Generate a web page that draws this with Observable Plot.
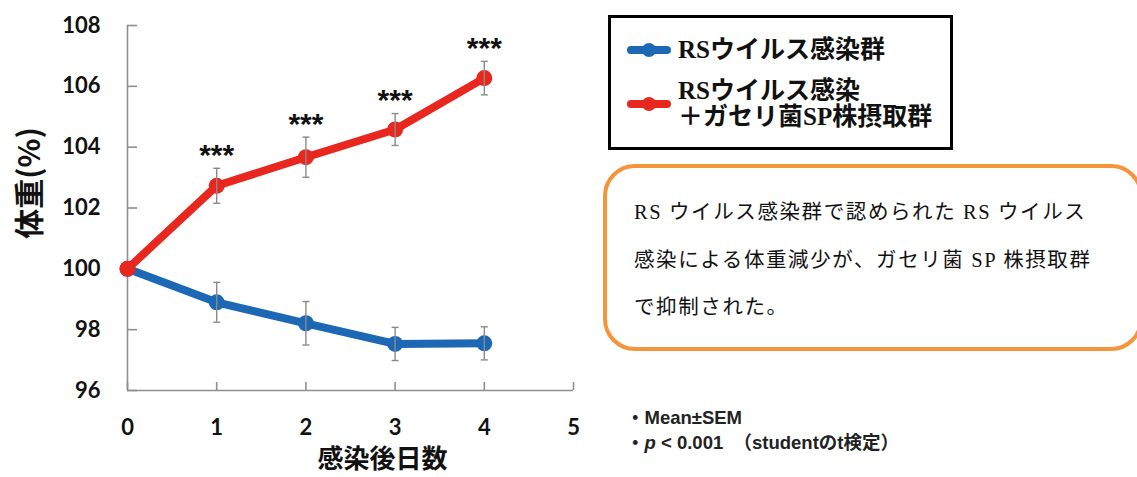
<!DOCTYPE html>
<html>
<head>
<meta charset="utf-8">
<script src="https://cdn.jsdelivr.net/npm/d3@7"></script>
<script src="https://cdn.jsdelivr.net/npm/@observablehq/plot@0.6"></script>
<style>
  html, body { margin: 0; padding: 0; background: #fff; }
  #wrap { position: relative; width: 1137px; height: 477px; overflow: hidden; background: #fff; }
  #chart { position: absolute; left: 0; top: 0; }
  #legend {
    position: absolute; left: 608px; top: 15px; width: 339px; height: 129px;
    border: 3px solid #000; box-sizing: content-box;
    font-family: "Liberation Serif", "Noto Sans CJK JP", serif; font-weight: 700;
    font-size: 25px; color: #111;
  }
  .lg-row { position: absolute; left: 0; display: flex; align-items: center; }
  .lg-row svg { margin-left: 16px; margin-right: 7px; flex: none; }
  .lg-text { line-height: 26px; white-space: nowrap; }
  #note {
    position: absolute; left: 603px; top: 164px; width: 540px; height: 187px;
    border: 4px solid #f5953a; border-radius: 32px; box-sizing: border-box;
    font-family: "Liberation Serif", "Noto Sans CJK JP", serif; font-size: 20.5px; color: #111;
  }
  #note .ln { position: absolute; left: 27px; white-space: nowrap; letter-spacing: 1.6px; }
  #foot {
    position: absolute; left: 626px; top: 405px;
    font-family: "Liberation Sans", "Noto Sans CJK JP", sans-serif; font-weight: 700;
    font-size: 18.5px; color: #222; line-height: 25px; white-space: nowrap;
  }
</style>
</head>
<body>
<div id="wrap">
  <div id="chart"></div>
  <div id="legend"></div>
  <div id="note">
    <div class="ln" style="top:27px">RS ウイルス感染群で認められた RS ウイルス</div>
    <div class="ln" style="top:75px">感染による体重減少が、ガセリ菌 SP 株摂取群</div>
    <div class="ln" style="top:122px">で抑制された。</div>
  </div>
  <div id="foot">
    <div>・Mean±SEM</div>
    <div>・<i>p</i> &lt; 0.001 &nbsp;（studentのt検定）</div>
  </div>
</div>
<script>
// ---- data ----
const days = [0, 1, 2, 3, 4];
const rsMean = [100, 98.9, 98.21, 97.53, 97.55];
const rsSem  = [0, 0.655, 0.715, 0.545, 0.545];
const spMean = [100, 102.73, 103.67, 104.58, 106.27];
const spSem  = [0, 0.575, 0.66, 0.525, 0.55];
const seriesNames = ["RSウイルス感染群", "RSウイルス感染\n＋ガセリ菌SP株摂取群"];
const seriesColors = ["#1c68b5", "#e8271f"];
const yTicks = [96, 98, 100, 102, 104, 106, 108];
const xTicks = [0, 1, 2, 3, 4, 5];
const sigDays = [1, 2, 3, 4];
const sigLabel = "***";
const yLabel = "体重(%)";
const xLabel = "感染後日数";

const rows = [];
days.forEach((d, i) => {
  rows.push({series: seriesNames[0], day: d, mean: rsMean[i], lo: rsMean[i] - rsSem[i], hi: rsMean[i] + rsSem[i], sem: rsSem[i]});
});
days.forEach((d, i) => {
  rows.push({series: seriesNames[1], day: d, mean: spMean[i], lo: spMean[i] - spSem[i], hi: spMean[i] + spSem[i], sem: spSem[i]});
});
const rsRows = rows.filter(r => r.series === seriesNames[0]);
const spRows = rows.filter(r => r.series === seriesNames[1]);
const errRows = rows.filter(r => r.sem > 0);
const sigRows = spRows.filter(r => sigDays.includes(r.day));

const capSymbol = { draw(ctx, size) { const w = Math.sqrt(size / Math.PI); ctx.moveTo(-w, 0); ctx.lineTo(w, 0); } };

const axisGray = "#8f8f8f";
const fontFam = "Lato, 'Noto Sans CJK JP', sans-serif";
const cjkFam = "'Noto Sans CJK JP', sans-serif";

const chart = Plot.plot({
  width: 600, height: 477,
  marginLeft: 127, marginRight: 27, marginTop: 25, marginBottom: 87,
  x: {domain: [0, 5]},
  y: {domain: [96, 108]},
  style: {fontFamily: fontFam, background: "transparent", overflow: "visible"},
  marks: [
    Plot.ruleX([0], {stroke: axisGray, strokeWidth: 1.6}),
    Plot.ruleY([96], {stroke: axisGray, strokeWidth: 1.6}),
    Plot.axisY({ticks: yTicks, tickSize: 0, tickPadding: 27, tickFormat: d3.format("d"), fontSize: 22, fontWeight: 700, fill: "#111", label: null}),
    Plot.axisY({ticks: yTicks, tickSize: -10, tickFormat: () => "", stroke: axisGray, strokeWidth: 1.6, label: null}),
    Plot.axisX({ticks: xTicks, tickSize: 0, tickPadding: 29, tickFormat: d3.format("d"), fontSize: 22, fontWeight: 700, fill: "#111", label: null}),
    Plot.axisX({ticks: xTicks, tickSize: -8, tickFormat: () => "", stroke: axisGray, strokeWidth: 1.6, label: null}),
    Plot.text([yLabel], {frameAnchor: "left", textAnchor: "middle", lineAnchor: "middle", dx: -97, dy: -25, rotate: -90, fontSize: 30, fontWeight: 700, fontFamily: cjkFam, fill: "#111", text: d => d}),
    Plot.text([xLabel], {frameAnchor: "bottom", textAnchor: "middle", lineAnchor: "middle", dx: 32, dy: 69, fontSize: 26, fontWeight: 700, fontFamily: cjkFam, fill: "#111", text: d => d, style: "letter-spacing:3.5px"}),
    Plot.line(rsRows, {x: "day", y: "mean", stroke: seriesColors[0], strokeWidth: 8}),
    Plot.dot(rsRows, {x: "day", y: "mean", r: 8, fill: seriesColors[0]}),
    Plot.line(spRows, {x: "day", y: "mean", stroke: seriesColors[1], strokeWidth: 8}),
    Plot.dot(spRows, {x: "day", y: "mean", r: 8, fill: seriesColors[1]}),
    Plot.ruleX(errRows, {x: "day", y1: "lo", y2: "hi", stroke: "#8a8a8a", strokeWidth: 1.4}),
    Plot.dot(errRows, {x: "day", y: "lo", symbol: capSymbol, r: 3.5, stroke: "#8a8a8a", strokeWidth: 1.4, fill: "none"}),
    Plot.dot(errRows, {x: "day", y: "hi", symbol: capSymbol, r: 3.5, stroke: "#8a8a8a", strokeWidth: 1.4, fill: "none"}),
    Plot.text(sigRows, {x: "day", y: "hi", text: () => sigLabel, dy: -13, fontSize: 30, fontWeight: 700, fontFamily: "'Liberation Sans', sans-serif", fill: "#111"})
  ]
});
document.getElementById("chart").appendChild(chart);

// legend
const legend = document.getElementById("legend");
const legendTops = [17, 56];
const legendHeights = [30, 60];
seriesNames.forEach((name, i) => {
  const row = document.createElement("div");
  row.className = "lg-row";
  row.style.top = legendTops[i] + "px";
  row.style.height = legendHeights[i] + "px";
  const ns = "http://www.w3.org/2000/svg";
  const sw = document.createElementNS(ns, "svg");
  sw.setAttribute("width", 44); sw.setAttribute("height", 16);
  const ln = document.createElementNS(ns, "line");
  ln.setAttribute("x1", 4); ln.setAttribute("x2", 40); ln.setAttribute("y1", 8); ln.setAttribute("y2", 8);
  ln.setAttribute("stroke", seriesColors[i]); ln.setAttribute("stroke-width", 8); ln.setAttribute("stroke-linecap", "round");
  const c = document.createElementNS(ns, "circle");
  c.setAttribute("cx", 22); c.setAttribute("cy", 8); c.setAttribute("r", 7); c.setAttribute("fill", seriesColors[i]);
  sw.appendChild(ln); sw.appendChild(c);
  row.appendChild(sw);
  const t = document.createElement("div");
  t.className = "lg-text";
  t.innerHTML = name.split("\n").join("<br>");
  row.appendChild(t);
  legend.appendChild(row);
});
</script>
</body>
</html>
